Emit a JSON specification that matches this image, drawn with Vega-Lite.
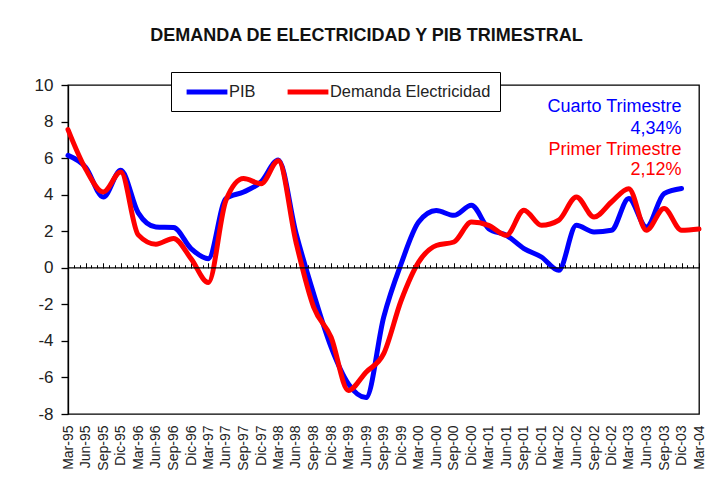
{
  "$schema": "https://vega.github.io/schema/vega-lite/v6.json",
  "width": 631,
  "height": 329,
  "autosize": {"type": "none"},
  "padding": {"left": 68, "top": 85, "right": 15, "bottom": 78},
  "background": "white",
  "title": {
    "text": "DEMANDA DE ELECTRICIDAD Y PIB TRIMESTRAL",
    "font": "Liberation Sans",
    "fontSize": 18,
    "fontWeight": "bold",
    "color": "#111111",
    "anchor": "middle",
    "frame": "group",
    "baseline": "alphabetic",
    "dx": -17,
    "offset": 13
  },
  "config": {
    "view": {"stroke": "#000000", "strokeWidth": 1.3},
    "axis": {"grid": false},
    "axisY": {
      "title": null,
      "values": [-8, -6, -4, -2, 0, 2, 4, 6, 8, 10],
      "labelExpr": "'' + datum.value",
      "labelOverlap": false,
      "labelFlush": false,
      "labelBound": false,
      "tickSize": 7,
      "tickWidth": 1.3,
      "tickColor": "#000000",
      "domainColor": "#000000",
      "domainWidth": 1.3,
      "labelFont": "Liberation Sans",
      "labelFontSize": 17,
      "labelColor": "#222222",
      "labelPadding": 8,
      "grid": false
    }
  },
  "datasets": {
    "series": [
      {"fecha": "1995/03/01", "serie": "PIB", "valor": 6.15},
      {"fecha": "1995/06/01", "serie": "PIB", "valor": 5.5},
      {"fecha": "1995/09/01", "serie": "PIB", "valor": 3.87},
      {"fecha": "1995/12/01", "serie": "PIB", "valor": 5.33},
      {"fecha": "1996/03/01", "serie": "PIB", "valor": 3.0},
      {"fecha": "1996/06/01", "serie": "PIB", "valor": 2.23},
      {"fecha": "1996/09/01", "serie": "PIB", "valor": 2.2},
      {"fecha": "1996/12/01", "serie": "PIB", "valor": 1.05},
      {"fecha": "1997/03/01", "serie": "PIB", "valor": 0.5},
      {"fecha": "1997/06/01", "serie": "PIB", "valor": 3.79},
      {"fecha": "1997/09/01", "serie": "PIB", "valor": 4.15},
      {"fecha": "1997/12/01", "serie": "PIB", "valor": 4.7},
      {"fecha": "1998/03/01", "serie": "PIB", "valor": 5.9},
      {"fecha": "1998/06/01", "serie": "PIB", "valor": 1.9},
      {"fecha": "1998/09/01", "serie": "PIB", "valor": -1.42},
      {"fecha": "1998/12/01", "serie": "PIB", "valor": -4.34},
      {"fecha": "1999/03/01", "serie": "PIB", "valor": -6.35},
      {"fecha": "1999/06/01", "serie": "PIB", "valor": -7.1},
      {"fecha": "1999/09/01", "serie": "PIB", "valor": -2.7},
      {"fecha": "1999/12/01", "serie": "PIB", "valor": 0.22},
      {"fecha": "2000/03/01", "serie": "PIB", "valor": 2.5},
      {"fecha": "2000/06/01", "serie": "PIB", "valor": 3.13},
      {"fecha": "2000/09/01", "serie": "PIB", "valor": 2.87},
      {"fecha": "2000/12/01", "serie": "PIB", "valor": 3.42},
      {"fecha": "2001/03/01", "serie": "PIB", "valor": 2.14},
      {"fecha": "2001/06/01", "serie": "PIB", "valor": 1.78},
      {"fecha": "2001/09/01", "serie": "PIB", "valor": 1.05},
      {"fecha": "2001/12/01", "serie": "PIB", "valor": 0.59},
      {"fecha": "2002/03/01", "serie": "PIB", "valor": -0.14},
      {"fecha": "2002/06/01", "serie": "PIB", "valor": 2.32},
      {"fecha": "2002/09/01", "serie": "PIB", "valor": 1.96},
      {"fecha": "2002/12/01", "serie": "PIB", "valor": 2.05},
      {"fecha": "2003/03/01", "serie": "PIB", "valor": 3.79},
      {"fecha": "2003/06/01", "serie": "PIB", "valor": 2.23},
      {"fecha": "2003/09/01", "serie": "PIB", "valor": 4.06},
      {"fecha": "2003/12/01", "serie": "PIB", "valor": 4.34},
      {"fecha": "1995/03/01", "serie": "Demanda Electricidad", "valor": 7.56},
      {"fecha": "1995/06/01", "serie": "Demanda Electricidad", "valor": 5.4},
      {"fecha": "1995/09/01", "serie": "Demanda Electricidad", "valor": 4.15},
      {"fecha": "1995/12/01", "serie": "Demanda Electricidad", "valor": 5.24},
      {"fecha": "1996/03/01", "serie": "Demanda Electricidad", "valor": 1.8},
      {"fecha": "1996/06/01", "serie": "Demanda Electricidad", "valor": 1.29},
      {"fecha": "1996/09/01", "serie": "Demanda Electricidad", "valor": 1.6},
      {"fecha": "1996/12/01", "serie": "Demanda Electricidad", "valor": 0.5},
      {"fecha": "1997/03/01", "serie": "Demanda Electricidad", "valor": -0.81},
      {"fecha": "1997/06/01", "serie": "Demanda Electricidad", "valor": 3.69},
      {"fecha": "1997/09/01", "serie": "Demanda Electricidad", "valor": 4.88},
      {"fecha": "1997/12/01", "serie": "Demanda Electricidad", "valor": 4.6},
      {"fecha": "1998/03/01", "serie": "Demanda Electricidad", "valor": 5.85},
      {"fecha": "1998/06/01", "serie": "Demanda Electricidad", "valor": 1.4},
      {"fecha": "1998/09/01", "serie": "Demanda Electricidad", "valor": -2.15},
      {"fecha": "1998/12/01", "serie": "Demanda Electricidad", "valor": -3.8},
      {"fecha": "1999/03/01", "serie": "Demanda Electricidad", "valor": -6.71},
      {"fecha": "1999/06/01", "serie": "Demanda Electricidad", "valor": -5.71},
      {"fecha": "1999/09/01", "serie": "Demanda Electricidad", "valor": -4.7},
      {"fecha": "1999/12/01", "serie": "Demanda Electricidad", "valor": -1.79},
      {"fecha": "2000/03/01", "serie": "Demanda Electricidad", "valor": 0.31},
      {"fecha": "2000/06/01", "serie": "Demanda Electricidad", "valor": 1.22},
      {"fecha": "2000/09/01", "serie": "Demanda Electricidad", "valor": 1.41},
      {"fecha": "2000/12/01", "serie": "Demanda Electricidad", "valor": 2.5},
      {"fecha": "2001/03/01", "serie": "Demanda Electricidad", "valor": 2.32},
      {"fecha": "2001/06/01", "serie": "Demanda Electricidad", "valor": 1.78},
      {"fecha": "2001/09/01", "serie": "Demanda Electricidad", "valor": 3.15},
      {"fecha": "2001/12/01", "serie": "Demanda Electricidad", "valor": 2.32},
      {"fecha": "2002/03/01", "serie": "Demanda Electricidad", "valor": 2.6},
      {"fecha": "2002/06/01", "serie": "Demanda Electricidad", "valor": 3.87},
      {"fecha": "2002/09/01", "serie": "Demanda Electricidad", "valor": 2.78},
      {"fecha": "2002/12/01", "serie": "Demanda Electricidad", "valor": 3.6},
      {"fecha": "2003/03/01", "serie": "Demanda Electricidad", "valor": 4.33},
      {"fecha": "2003/06/01", "serie": "Demanda Electricidad", "valor": 2.05},
      {"fecha": "2003/09/01", "serie": "Demanda Electricidad", "valor": 3.24},
      {"fecha": "2003/12/01", "serie": "Demanda Electricidad", "valor": 2.05},
      {"fecha": "2004/03/01", "serie": "Demanda Electricidad", "valor": 2.12}
    ],
    "notas": [
      {"fecha": "2003/12/01", "serie": "PIB", "y": 8.52, "texto": "Cuarto Trimestre"},
      {"fecha": "2003/12/01", "serie": "PIB", "y": 7.3, "texto": "4,34%"},
      {"fecha": "2003/12/01", "serie": "Demanda Electricidad", "y": 6.15, "texto": "Primer Trimestre"},
      {"fecha": "2003/12/01", "serie": "Demanda Electricidad", "y": 5.06, "texto": "2,12%"}
    ]
  },
  "layer": [
    {
      "data": {"name": "series"},
      "mark": {"type": "line", "interpolate": "monotone", "strokeWidth": 5, "strokeCap": "round", "strokeJoin": "round"},
      "encoding": {
        "x": {
          "field": "fecha",
          "type": "temporal",
          "scale": {"domain": [{"year": 1995, "month": 3, "date": 1}, {"year": 2004, "month": 3, "date": 1}], "nice": false},
          "axis": {
            "title": null,
            "orient": "bottom",
            "values": [
              {"year": 1995, "month": 3, "date": 1}, {"year": 1995, "month": 6, "date": 1}, {"year": 1995, "month": 9, "date": 1}, {"year": 1995, "month": 12, "date": 1},
              {"year": 1996, "month": 3, "date": 1}, {"year": 1996, "month": 6, "date": 1}, {"year": 1996, "month": 9, "date": 1}, {"year": 1996, "month": 12, "date": 1},
              {"year": 1997, "month": 3, "date": 1}, {"year": 1997, "month": 6, "date": 1}, {"year": 1997, "month": 9, "date": 1}, {"year": 1997, "month": 12, "date": 1},
              {"year": 1998, "month": 3, "date": 1}, {"year": 1998, "month": 6, "date": 1}, {"year": 1998, "month": 9, "date": 1}, {"year": 1998, "month": 12, "date": 1},
              {"year": 1999, "month": 3, "date": 1}, {"year": 1999, "month": 6, "date": 1}, {"year": 1999, "month": 9, "date": 1}, {"year": 1999, "month": 12, "date": 1},
              {"year": 2000, "month": 3, "date": 1}, {"year": 2000, "month": 6, "date": 1}, {"year": 2000, "month": 9, "date": 1}, {"year": 2000, "month": 12, "date": 1},
              {"year": 2001, "month": 3, "date": 1}, {"year": 2001, "month": 6, "date": 1}, {"year": 2001, "month": 9, "date": 1}, {"year": 2001, "month": 12, "date": 1},
              {"year": 2002, "month": 3, "date": 1}, {"year": 2002, "month": 6, "date": 1}, {"year": 2002, "month": 9, "date": 1}, {"year": 2002, "month": 12, "date": 1},
              {"year": 2003, "month": 3, "date": 1}, {"year": 2003, "month": 6, "date": 1}, {"year": 2003, "month": 9, "date": 1}, {"year": 2003, "month": 12, "date": 1},
              {"year": 2004, "month": 3, "date": 1}
            ],
            "labelExpr": "replace(timeFormat(datum.value, '%b-%y'), 'Dec', 'Dic')",
            "labelAngle": 270,
            "labelAlign": "right",
            "labelBaseline": "middle",
            "labelFont": "Liberation Sans",
            "labelFontSize": 14,
            "labelColor": "#222222",
            "labelPadding": 11,
            "labelOverlap": false,
            "labelFlush": false,
            "labelBound": false,
            "ticks": false,
            "domain": false,
            "grid": false
          }
        },
        "y": {
          "field": "valor",
          "type": "quantitative",
          "title": null,
          "scale": {"domain": [-8, 10], "nice": false, "zero": false},
          "axis": {"values": [-8, -6, -4, -2, 0, 2, 4, 6, 8, 10], "labelOverlap": false, "tickCount": 10}
        },
        "color": {
          "field": "serie",
          "type": "nominal",
          "scale": {"domain": ["PIB", "Demanda Electricidad"], "range": ["#0000FF", "#FF0000"]},
          "legend": {
            "title": null,
            "orient": "none",
            "legendX": 103,
            "legendY": -13,
            "direction": "horizontal",
            "symbolType": "M-2.4,0H2.4",
            "symbolStrokeWidth": 5,
            "symbolSize": 289,
            "labelFont": "Liberation Sans",
            "labelFontSize": 16.4,
            "labelColor": "#222222",
            "labelLimit": 300,
            "labelOffset": 11,
            "symbolOffset": 16,
            "columnPadding": 21,
            "padding": 9,
            "strokeColor": "#000000",
            "fillColor": "#FFFFFF"
          }
        }
      }
    },
    {
      "data": {"values": [{}]},
      "mark": {"type": "rule", "color": "#000000", "strokeWidth": 1.3},
      "encoding": {"y": {"datum": 0, "type": "quantitative", "title": null, "axis": {"values": [-8, -6, -4, -2, 0, 2, 4, 6, 8, 10], "labelOverlap": false, "tickCount": 10}}}
    },
    {
      "data": {"name": "notas"},
      "transform": [{"filter": "datum.serie === 'PIB'"}],
      "mark": {"type": "text", "color": "#0000FF", "align": "right", "baseline": "alphabetic", "font": "Liberation Sans", "fontSize": 18},
      "encoding": {
        "x": {
          "field": "fecha",
          "type": "temporal",
          "axis": {
            "orient": "top",
            "offset": -182.78,
            "title": null,
            "labels": false,
            "domain": false,
            "grid": false,
            "ticks": true,
            "tickSize": 3,
            "tickWidth": 1,
            "tickColor": "#000000",
            "tickCount": {"interval": "month", "step": 1}
          }
        },
        "y": {"field": "y", "type": "quantitative", "title": null, "axis": {"values": [-8, -6, -4, -2, 0, 2, 4, 6, 8, 10], "labelOverlap": false, "tickCount": 10}},
        "text": {"field": "texto"}
      }
    },
    {
      "data": {"name": "notas"},
      "transform": [{"filter": "datum.serie === 'Demanda Electricidad'"}],
      "mark": {"type": "text", "color": "#FF0000", "align": "right", "baseline": "alphabetic", "font": "Liberation Sans", "fontSize": 18},
      "encoding": {
        "x": {
          "field": "fecha",
          "type": "temporal",
          "axis": {
            "orient": "top",
            "offset": -182.78,
            "title": null,
            "labels": false,
            "domain": false,
            "grid": false,
            "ticks": true,
            "tickSize": 5,
            "tickWidth": 1,
            "tickColor": "#000000",
            "values": [
              {"year": 1995, "month": 3, "date": 1}, {"year": 1995, "month": 6, "date": 1}, {"year": 1995, "month": 9, "date": 1}, {"year": 1995, "month": 12, "date": 1},
              {"year": 1996, "month": 3, "date": 1}, {"year": 1996, "month": 6, "date": 1}, {"year": 1996, "month": 9, "date": 1}, {"year": 1996, "month": 12, "date": 1},
              {"year": 1997, "month": 3, "date": 1}, {"year": 1997, "month": 6, "date": 1}, {"year": 1997, "month": 9, "date": 1}, {"year": 1997, "month": 12, "date": 1},
              {"year": 1998, "month": 3, "date": 1}, {"year": 1998, "month": 6, "date": 1}, {"year": 1998, "month": 9, "date": 1}, {"year": 1998, "month": 12, "date": 1},
              {"year": 1999, "month": 3, "date": 1}, {"year": 1999, "month": 6, "date": 1}, {"year": 1999, "month": 9, "date": 1}, {"year": 1999, "month": 12, "date": 1},
              {"year": 2000, "month": 3, "date": 1}, {"year": 2000, "month": 6, "date": 1}, {"year": 2000, "month": 9, "date": 1}, {"year": 2000, "month": 12, "date": 1},
              {"year": 2001, "month": 3, "date": 1}, {"year": 2001, "month": 6, "date": 1}, {"year": 2001, "month": 9, "date": 1}, {"year": 2001, "month": 12, "date": 1},
              {"year": 2002, "month": 3, "date": 1}, {"year": 2002, "month": 6, "date": 1}, {"year": 2002, "month": 9, "date": 1}, {"year": 2002, "month": 12, "date": 1},
              {"year": 2003, "month": 3, "date": 1}, {"year": 2003, "month": 6, "date": 1}, {"year": 2003, "month": 9, "date": 1}, {"year": 2003, "month": 12, "date": 1},
              {"year": 2004, "month": 3, "date": 1}
            ]
          }
        },
        "y": {"field": "y", "type": "quantitative", "title": null, "axis": {"values": [-8, -6, -4, -2, 0, 2, 4, 6, 8, 10], "labelOverlap": false, "tickCount": 10}},
        "text": {"field": "texto"}
      }
    }
  ],
  "resolve": {"axis": {"x": "independent"}}
}
